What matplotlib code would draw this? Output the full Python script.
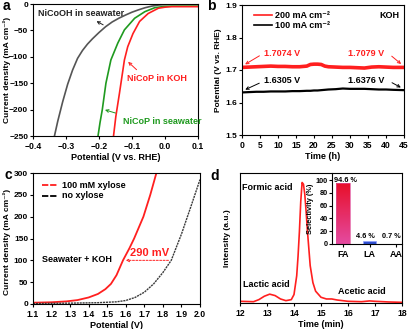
import numpy as np
import matplotlib
matplotlib.use('Agg')
import matplotlib.pyplot as plt
from matplotlib.colors import LinearSegmentedColormap

FS = 6.5
plt.rcParams.update({
    'font.family': ['Liberation Sans', 'DejaVu Sans'], 'font.weight': 'bold',
    'axes.labelweight': 'bold', 'font.size': FS,
    'xtick.labelsize': 6.2, 'ytick.labelsize': 6.0,
    'axes.linewidth': 0.8, 'xtick.major.width': 0.8, 'ytick.major.width': 0.8,
    'xtick.major.size': 2.5, 'ytick.major.size': 2.5,
    'xtick.direction': 'out', 'ytick.direction': 'out',
    'xtick.major.pad': 1.5, 'ytick.major.pad': 1.0,
    'axes.labelpad': 1.5,
})

# ---------------- Panel a data ----------------
a_nicooh_v = [-0.335, -0.325, -0.31, -0.295, -0.28, -0.265, -0.25, -0.235, -0.22, -0.2, -0.18,
              -0.16, -0.14, -0.12, -0.1, -0.08, -0.06, -0.04, -0.02, 0.0, 0.02, 0.05, 0.1]
a_nicooh_j = [-250, -222, -185, -152, -125, -103, -88, -76, -66, -54, -43,
              -34, -27, -21, -15.5, -11, -7, -4, -2, -1, -0.3, 0, 0]
a_sea_v = [-0.203, -0.197, -0.19, -0.179, -0.164, -0.143, -0.123, -0.092, -0.061, -0.031, 0.0, 0.02, 0.05, 0.1]
a_sea_j = [-250, -225, -200, -150, -106, -74, -49, -27, -14.5, -7, -4.5, -4, -4, -4]
a_koh_v = [-0.156, -0.149, -0.138, -0.123, -0.113, -0.097, -0.077, -0.051, -0.02, 0.0, 0.021, 0.05, 0.1]
a_koh_j = [-250, -213, -169, -106, -81, -56, -33, -18, -8, -6, -5, -5, -5]

# ---------------- Panel b data ----------------
b_time = [0, 2, 4, 6, 8, 10, 12, 14, 16, 18, 19, 20, 21, 22, 23, 24, 26, 28, 30, 32, 34, 36, 38, 40, 42, 45]
b_200 = [1.708, 1.709, 1.710, 1.711, 1.712, 1.711, 1.711, 1.710, 1.710, 1.712, 1.717, 1.718, 1.718, 1.717, 1.712,
         1.710, 1.709, 1.708, 1.708, 1.707, 1.706, 1.709, 1.710, 1.709, 1.708, 1.708]
b_100 = [1.631, 1.632, 1.633, 1.633, 1.634, 1.634, 1.634, 1.635, 1.635, 1.636, 1.636, 1.637, 1.637, 1.638,
         1.639, 1.640, 1.641, 1.643, 1.642, 1.642, 1.642, 1.641, 1.640, 1.640, 1.639, 1.638]
b_labels = ['200 mA cm\u207b\u00b2', '100 mA cm\u207b\u00b2']

# ---------------- Panel c data ----------------
c_xyl_v = [1.10, 1.20, 1.28, 1.34, 1.40, 1.45, 1.49, 1.52, 1.55, 1.585, 1.62, 1.645, 1.695, 1.732, 1.765]
c_xyl_j = [3, 4, 6, 9, 15, 23, 34, 46, 66, 100, 128, 150, 200, 250, 300]
c_no_v = [1.10, 1.30, 1.45, 1.55, 1.60, 1.65, 1.70, 1.75, 1.80, 1.845, 1.90, 1.95, 2.00]
c_no_j = [1, 2, 3, 5, 8, 15, 27, 46, 72, 100, 160, 222, 285]
c_labels = ['100 mM xylose', 'no xylose']

# ---------------- Panel d data ----------------
d_time = [12.0, 12.5, 12.7, 12.9, 13.1, 13.3, 13.5, 13.7, 13.9, 14.0, 14.1, 14.15, 14.2, 14.25, 14.3,
          14.35, 14.4, 14.45, 14.5, 14.6, 14.7, 14.8, 15.0, 15.2, 15.4, 15.6, 16.0, 16.5, 16.8, 17.0, 17.5, 18.0]
d_int = [1.3, 1.0, 2.6, 5.2, 6.8, 5.7, 3.1, 1.8, 2.6, 6.5, 20.9, 36, 54.8, 78, 92.7,
         91.4, 83.6, 70, 54.8, 28.7, 15.7, 9.1, 4.4, 3.1, 3.1, 2.3, 1.3, 1.0, 1.6, 1.3, 0.8, 0.5]
sel_cats = ['FA', 'LA', 'AA']
sel_vals = [94.6, 4.6, 0.7]
sel_labels = ['94.6 %', '4.6 %', '0.7 %']

CD_LABEL = 'Current density (mA cm\u207b\u00b2)'

W, H = 409, 329
fig = plt.figure(figsize=(W / 100, H / 100), dpi=100)

def ax_px(x0, y0, x1, y1):
    return fig.add_axes([x0 / W, 1 - y1 / H, (x1 - x0) / W, (y1 - y0) / H])

def fx(ax, px):  # pixel x -> axes fraction
    b = ax.get_position()
    return (px / W - b.x0) / b.width

def fy(ax, py):
    b = ax.get_position()
    return ((1 - py / H) - b.y0) / b.height

RED = '#ff1f1f'
GREEN = '#1f9a1f'
arr = dict(lw=0.7, mutation_scale=5)
YL = 6.0

# ---------- a ----------
ax = ax_px(33, 4, 198, 136)
ax.plot(a_nicooh_v, a_nicooh_j, color='#555555', lw=1.2)
ax.plot(a_sea_v, a_sea_j, color=GREEN, lw=1.2)
ax.plot(a_koh_v, a_koh_j, color=RED, lw=1.2)
ax.set_xlim(-0.4, 0.1)
ax.set_ylim(-250, 0)
ax.set_xticks([-0.4, -0.3, -0.2, -0.1, 0.0, 0.1])
ax.set_yticks([-250, -200, -150, -100, -50, 0])
ax.set_xlabel('Potential (V vs. RHE)')
ax.set_ylabel(CD_LABEL, fontsize=YL)
ax.yaxis.set_label_coords(fx(ax, 10.8), 0.5)
ax.text(-0.385, -18, 'NiCoOH in seawater', color='#222222', ha='left', va='center')
ax.annotate('', xy=(-0.215, -30), xytext=(-0.18, -42),
            arrowprops=dict(arrowstyle='->', color='#222222', **arr))
ax.text(-0.116, -142, 'NiCoP in KOH', color=RED, ha='left', va='center')
ax.annotate('', xy=(-0.118, -106), xytext=(-0.08, -128),
            arrowprops=dict(arrowstyle='->', color=RED, **arr))
ax.text(-0.128, -222, 'NiCoP in seawater', color=GREEN, ha='left', va='center')
ax.annotate('', xy=(-0.19, -199), xytext=(-0.142, -208),
            arrowprops=dict(arrowstyle='->', color=GREEN, **arr))
fig.text(3 / W, 1 - 6 / H, 'a', fontsize=10, fontweight='bold', va='center')

# ---------- b ----------
ax = ax_px(242, 5, 404, 135)
ax.plot(b_time, b_200, color=RED, lw=2.6)
ax.plot(b_time, b_100, color='black', lw=1.6)
ax.set_xlim(0, 45)
ax.set_ylim(1.5, 1.9)
ax.set_xticks(range(0, 46, 5))
ax.set_yticks([1.5, 1.6, 1.7, 1.8, 1.9])
ax.set_xlabel('Time (h)')
ax.set_ylabel('Potential (V vs. RHE)', fontsize=YL)
ax.yaxis.set_label_coords(fx(ax, 222), 0.5)
for yy, col, lab in zip([15, 25], [RED, 'black'], b_labels):
    ax.plot([fx(ax, 254), fx(ax, 272)], [fy(ax, yy)] * 2, color=col, lw=1.2, transform=ax.transAxes)
    ax.text(fx(ax, 275), fy(ax, yy), lab, transform=ax.transAxes, ha='left', va='center')
ax.text(0.97, fy(ax, 15), 'KOH', transform=ax.transAxes, ha='right', va='center')
ax.text(6, 1.752, '1.7074 V', color=RED, ha='left', va='center')
ax.text(29.5, 1.752, '1.7079 V', color=RED, ha='left', va='center')
ax.text(6, 1.669, '1.6305 V', color='black', ha='left', va='center')
ax.text(29.5, 1.669, '1.6376 V', color='black', ha='left', va='center')
ax.annotate('', xy=(0.2, 1.713), xytext=(5.5, 1.748), arrowprops=dict(arrowstyle='->', color=RED, **arr))
ax.annotate('', xy=(44.8, 1.713), xytext=(41, 1.748), arrowprops=dict(arrowstyle='->', color=RED, **arr))
ax.annotate('', xy=(0.2, 1.636), xytext=(5.5, 1.663), arrowprops=dict(arrowstyle='->', color='black', **arr))
ax.annotate('', xy=(44.8, 1.642), xytext=(41, 1.665), arrowprops=dict(arrowstyle='->', color='black', **arr))
fig.text(207 / W, 1 - 6 / H, 'b', fontsize=10, fontweight='bold', va='center')

# ---------- c ----------
ax = ax_px(33, 173, 200, 304)
ax.plot(c_xyl_v, c_xyl_j, color=RED, lw=1.3)
ax.plot(c_no_v, c_no_j, color='#3a3a3a', lw=1.0, ls=(0, (1.5, 0.6)))
ax.set_xlim(1.1, 2.0)
ax.set_ylim(0, 300)
ax.set_xticks(np.round(np.arange(1.1, 2.01, 0.1), 1))
ax.set_yticks(range(0, 301, 50))
ax.set_xlabel('Potential (V)')
ax.set_ylabel(CD_LABEL, fontsize=YL)
ax.yaxis.set_label_coords(fx(ax, 10.8), 0.47)
for yy, col, lab in zip([185, 196], [RED, 'black'], c_labels):
    ax.plot([fx(ax, 42), fx(ax, 58)], [fy(ax, yy)] * 2, color=col, lw=1.3, ls=(0, (3.5, 1)),
            transform=ax.transAxes)
    ax.text(fx(ax, 62), fy(ax, yy), lab, transform=ax.transAxes, ha='left', va='center')
ax.annotate('', xy=(1.585, 100), xytext=(1.845, 100),
            arrowprops=dict(arrowstyle='->', color=RED, lw=0.7, ls=(0, (2, 1.5)), mutation_scale=5))
ax.text(1.73, 116, '290 mV', color=RED, ha='center', va='center', fontsize=8)
ax.text(1.148, 103, 'Seawater + KOH', color='black', ha='left', va='center')
fig.text(8 / W, 1 - 175 / H, 'c', fontsize=10, fontweight='bold', va='center', ha='center')

# ---------- d ----------
ax = ax_px(240, 173, 402, 303)
ax.plot(d_time, d_int, color=RED, lw=1.2)
ax.set_xlim(12, 18)
ax.set_ylim(0, 100)
ax.set_xticks(range(12, 19))
ax.set_yticks([])
ax.set_xlabel('Time (min)')
ax.set_ylabel('Intensity (a.u.)', fontsize=YL)
ax.yaxis.set_label_coords(fx(ax, 231), 0.5)
ax.text(12.07, 89, 'Formic acid', ha='left', va='center')
ax.text(12.1, 14, 'Lactic acid', ha='left', va='center')
ax.text(16.5, 8.5, 'Acetic acid', ha='center', va='center')
fig.text(210 / W, 1 - 176 / H, 'd', fontsize=10, fontweight='bold', va='center')

# inset
ins = ax_px(332, 173, 402, 244)
xs = np.arange(len(sel_cats))
bars = ins.bar(xs, sel_vals, width=0.5, color=['none', '#2f4fd0', '#888888'],
               edgecolor=['#e0509a', '#8fa0ff', '#888888'], lw=0.5, zorder=2)
cmap = LinearSegmentedColormap.from_list('g', ['#e44aa0', '#e8102a'])
grad = np.linspace(0, 1, 100).reshape(-1, 1)
b0 = bars[0]
im = ins.imshow(grad, cmap=cmap, origin='lower', aspect='auto',
                extent=[b0.get_x(), b0.get_x() + b0.get_width(), 0, b0.get_height()], zorder=1)
im.set_clip_path(b0)
ins.set_xlim(-0.42, 2.23)
ins.set_ylim(0, 111)
ins.set_xticks(xs)
ins.set_xticklabels(sel_cats, fontsize=FS)
ins.set_yticks(range(0, 101, 20))
ins.tick_params(axis='y', labelsize=5.3, length=2, pad=1)
ins.tick_params(axis='x', length=2, pad=2)
ins.set_ylabel('Selectivity (%)', fontsize=5.3, labelpad=1)
ins.spines['top'].set_visible(False)
ins.spines['right'].set_visible(False)
ins.patch.set_alpha(0)
ins.text(0.08, 100, sel_labels[0], ha='center', va='center', fontsize=5.3)
ins.text(0.85, 11, sel_labels[1], ha='center', va='center', fontsize=5.3)
ins.text(1.81, 11, sel_labels[2], ha='center', va='center', fontsize=5.3)

fig.savefig('out.png', dpi=100)
